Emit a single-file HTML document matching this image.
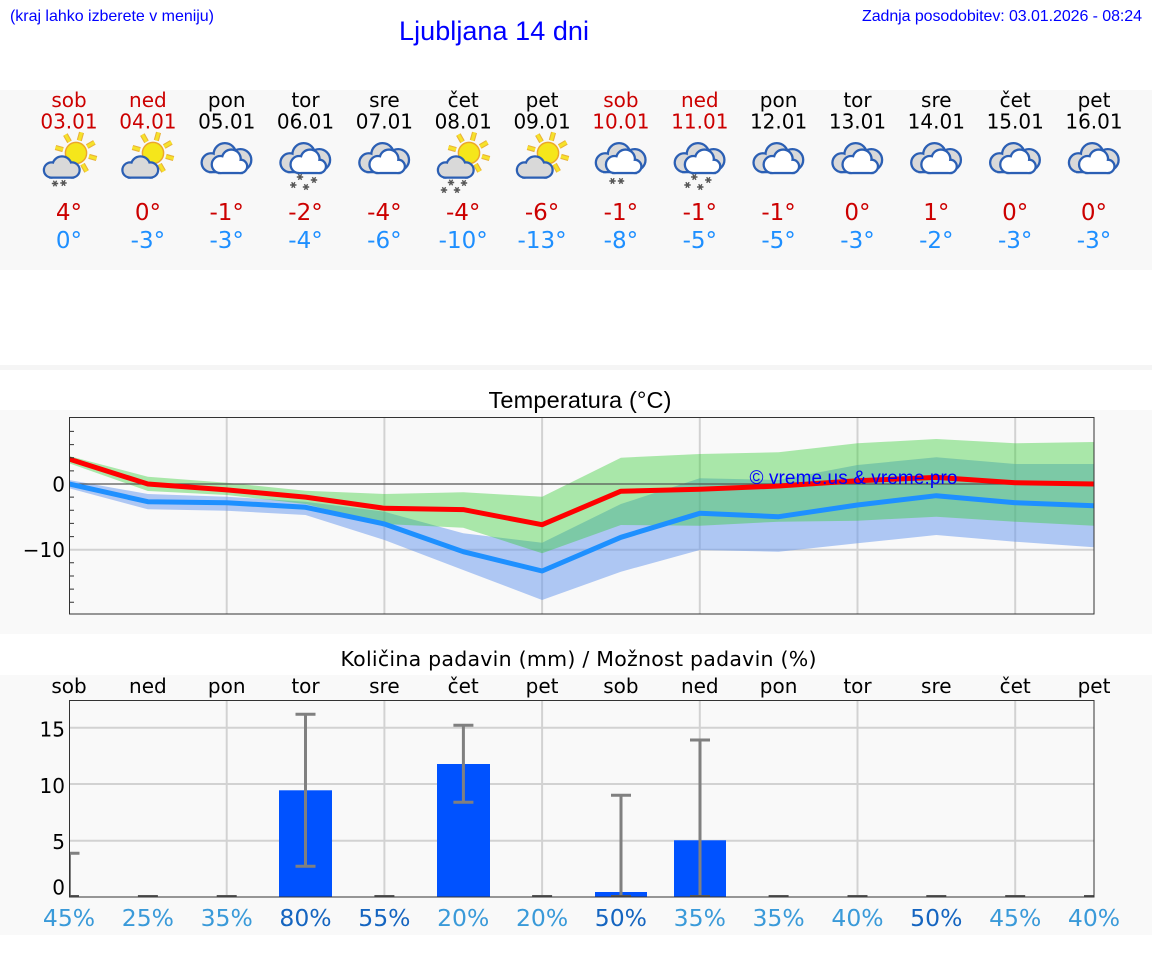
<!DOCTYPE html>
<html>
<head>
<meta charset="utf-8">
<style>
html,body{margin:0;padding:0;background:#fff;}
svg{display:block;}
</style>
</head>
<body>
<svg width="1152" height="975" viewBox="0 0 1152 975" xmlns="http://www.w3.org/2000/svg">
<defs>
  <g id="oc" transform="scale(0.92)">
    <g fill="#2b5fb4" stroke="#2b5fb4" stroke-width="5">
      <circle cx="-17" cy="4" r="9"/><circle cx="-2" cy="-5" r="11"/><circle cx="15" cy="1" r="10.5"/><rect x="-17" y="2" width="32" height="11"/>
    </g>
    <g fill="#d9d9d9">
      <circle cx="-17" cy="4" r="9"/><circle cx="-2" cy="-5" r="11"/><circle cx="15" cy="1" r="10.5"/><rect x="-17" y="2" width="32" height="11"/>
    </g>
    <g fill="#2b5fb4" stroke="#2b5fb4" stroke-width="5">
      <circle cx="-7" cy="6" r="8"/><circle cx="5" cy="0" r="9"/><circle cx="15" cy="8" r="6"/><rect x="-7" y="6" width="22" height="8"/>
    </g>
    <g fill="#ffffff">
      <circle cx="-7" cy="6" r="8"/><circle cx="5" cy="0" r="9"/><circle cx="15" cy="8" r="6"/><rect x="-7" y="6" width="22" height="8"/>
    </g>
  </g>
  <g id="sc">
    <g fill="#2b5fb4" stroke="#2b5fb4" stroke-width="4.5">
      <circle cx="-10.5" cy="3" r="6.5"/><circle cx="0" cy="-1" r="8.5"/><circle cx="10" cy="3" r="6.5"/><rect x="-10.5" y="3" width="20.5" height="6.5"/>
    </g>
    <g fill="#d9d9d9">
      <circle cx="-10.5" cy="3" r="6.5"/><circle cx="0" cy="-1" r="8.5"/><circle cx="10" cy="3" r="6.5"/><rect x="-10.5" y="3" width="20.5" height="6.5"/>
    </g>
  </g>
  <g id="sun" transform="scale(1.18)">
    <g stroke="#e9b23a" stroke-width="4.4" stroke-linecap="butt">
      <path d="M2.8,-10.6 L4.7,-17.4 M9.5,-5.5 L15.6,-9 M11,2.9 L17.4,4.7 M5.5,9.5 L9,15.6 M-2.8,10.6 L-4.7,17.4 M-9.5,5.5 L-15.6,9 M-11,-2.9 L-17.4,-4.7 M-5.5,-9.5 L-9,-15.6"/>
    </g>
    <g stroke="#f6e22a" stroke-width="2.6">
      <path d="M2.8,-10.6 L4.7,-17.4 M9.5,-5.5 L15.6,-9 M11,2.9 L17.4,4.7 M5.5,9.5 L9,15.6 M-2.8,10.6 L-4.7,17.4 M-9.5,5.5 L-15.6,9 M-11,-2.9 L-17.4,-4.7 M-5.5,-9.5 L-9,-15.6"/>
    </g>
    <circle cx="0" cy="0" r="9" fill="#f5e61b" stroke="#eba62c" stroke-width="1.2"/>
  </g>
  <g id="sf" stroke="#555" stroke-width="1.4" fill="none">
    <path d="M-3.2,0 H3.2 M-1.6,-2.8 L1.6,2.8 M-1.6,2.8 L1.6,-2.8"/>
  </g>
  <clipPath id="tclip"><rect x="69" y="417" width="1025" height="197"/></clipPath>
  <clipPath id="pclip"><rect x="69" y="700" width="1025" height="197.5"/></clipPath>
</defs>

<!-- backgrounds -->
<rect x="0" y="90" width="1152" height="180" fill="#f8f8f8"/>
<rect x="0" y="365" width="1152" height="5" fill="#f5f5f5"/>
<rect x="0" y="410" width="1152" height="224" fill="#f9f9f9"/>
<rect x="0" y="675" width="1152" height="260" fill="#f9f9f9"/>

<!-- header -->
<g font-family="Liberation Sans, Arial, sans-serif" fill="#0000ff">
  <text x="10" y="21" font-size="16" textLength="204">(kraj lahko izberete v meniju)</text>
  <text x="399" y="40" font-size="27" textLength="190">Ljubljana 14 dni</text>
  <text x="862" y="21" font-size="16" textLength="280">Zadnja posodobitev: 03.01.2026 - 08:24</text>
</g>

<!-- day columns -->
<g font-family="DejaVu Sans, sans-serif" font-size="20" text-anchor="middle">
  <g fill="#cc0000">
    <text x="69" y="107">sob</text><text x="69" y="128.5">03.01</text>
    <text x="147.9" y="107">ned</text><text x="147.9" y="128.5">04.01</text>
    <text x="620.9" y="107">sob</text><text x="620.9" y="128.5">10.01</text>
    <text x="699.8" y="107">ned</text><text x="699.8" y="128.5">11.01</text>
  </g>
  <g fill="#000">
    <text x="226.7" y="107">pon</text><text x="226.7" y="128.5">05.01</text>
    <text x="305.5" y="107">tor</text><text x="305.5" y="128.5">06.01</text>
    <text x="384.4" y="107">sre</text><text x="384.4" y="128.5">07.01</text>
    <text x="463.2" y="107">čet</text><text x="463.2" y="128.5">08.01</text>
    <text x="542.1" y="107">pet</text><text x="542.1" y="128.5">09.01</text>
    <text x="778.6" y="107">pon</text><text x="778.6" y="128.5">12.01</text>
    <text x="857.5" y="107">tor</text><text x="857.5" y="128.5">13.01</text>
    <text x="936.3" y="107">sre</text><text x="936.3" y="128.5">14.01</text>
    <text x="1015.2" y="107">čet</text><text x="1015.2" y="128.5">15.01</text>
    <text x="1094" y="107">pet</text><text x="1094" y="128.5">16.01</text>
  </g>
</g>
<g font-family="DejaVu Sans, sans-serif" font-size="23" text-anchor="middle">
  <g fill="#cc0000">
    <text x="69" y="220">4°</text><text x="147.9" y="220">0°</text><text x="226.7" y="220">-1°</text><text x="305.5" y="220">-2°</text>
    <text x="384.4" y="220">-4°</text><text x="463.2" y="220">-4°</text><text x="542.1" y="220">-6°</text><text x="620.9" y="220">-1°</text>
    <text x="699.8" y="220">-1°</text><text x="778.6" y="220">-1°</text><text x="857.5" y="220">0°</text><text x="936.3" y="220">1°</text>
    <text x="1015.2" y="220">0°</text><text x="1094" y="220">0°</text>
  </g>
  <g fill="#1e8fff">
    <text x="69" y="248">0°</text><text x="147.9" y="248">-3°</text><text x="226.7" y="248">-3°</text><text x="305.5" y="248">-4°</text>
    <text x="384.4" y="248">-6°</text><text x="463.2" y="248">-10°</text><text x="542.1" y="248">-13°</text><text x="620.9" y="248">-8°</text>
    <text x="699.8" y="248">-5°</text><text x="778.6" y="248">-5°</text><text x="857.5" y="248">-3°</text><text x="936.3" y="248">-2°</text>
    <text x="1015.2" y="248">-3°</text><text x="1094" y="248">-3°</text>
  </g>
</g>

<!-- icons -->
<use href="#sun" x="76" y="153"/><use href="#sc" x="62" y="167"/>
<use href="#sf" x="55" y="183.5"/><use href="#sf" x="63.5" y="183"/>
<use href="#sun" x="153" y="153"/><use href="#sc" x="140.5" y="167"/>
<use href="#oc" x="226.7" y="159"/>
<use href="#oc" x="305.5" y="159"/>
<use href="#sf" x="293.3" y="185"/><use href="#sf" x="300" y="177"/><use href="#sf" x="306" y="187"/><use href="#sf" x="314" y="180"/>
<use href="#oc" x="384.4" y="159"/>
<use href="#sun" x="469" y="153"/><use href="#sc" x="456" y="167"/>
<use href="#sf" x="444" y="190"/><use href="#sf" x="451" y="182.5"/><use href="#sf" x="457" y="190"/><use href="#sf" x="464" y="183"/>
<use href="#sun" x="548" y="153"/><use href="#sc" x="535" y="167"/>
<use href="#oc" x="620.9" y="159"/>
<use href="#sf" x="612.5" y="181"/><use href="#sf" x="621" y="181"/>
<use href="#oc" x="699.8" y="159"/>
<use href="#sf" x="687.5" y="185"/><use href="#sf" x="694.3" y="177"/><use href="#sf" x="700.3" y="187"/><use href="#sf" x="708.3" y="180"/>
<use href="#oc" x="778.6" y="159"/>
<use href="#oc" x="857.5" y="159"/>
<use href="#oc" x="936.3" y="159"/>
<use href="#oc" x="1015.2" y="159"/>
<use href="#oc" x="1094" y="159"/>

<!-- Temperature chart -->
<text x="580" y="408" font-family="Liberation Sans, Arial, sans-serif" font-size="23.5" text-anchor="middle" fill="#000" textLength="183">Temperatura (°C)</text>
<g clip-path="url(#tclip)">
  <g stroke="#d2d2d2" stroke-width="2">
    <path d="M226.7,417 V614 M384.4,417 V614 M542.1,417 V614 M699.8,417 V614 M857.5,417 V614 M1015.2,417 V614"/>
    <path d="M69,549.7 H1094"/>
  </g>
  <polygon fill="#6495ed" fill-opacity="0.5" points="69,480 147.85,494 226.7,496.7 305.5,501.7 384.4,511.7 463.2,533.3 542.1,542.7 620.9,504 699.8,478.3 778.6,480 857.5,465 936.3,457.3 1015.2,464 1094,464 1094,547.3 1015.2,541.7 936.3,535 857.5,543.3 778.6,551.7 699.8,550 620.9,571.7 542.1,600 463.2,570 384.4,540 305.5,515 226.7,510.7 147.85,509.3 69,488.3"/>
  <polygon fill="#32cd32" fill-opacity="0.4" points="69,456 147.85,476.7 226.7,482.7 305.5,490.7 384.4,494 463.2,492.3 542.1,496.7 620.9,457.7 699.8,454 778.6,452.3 857.5,443.3 936.3,439 1015.2,443.3 1094,442 1094,525.7 1015.2,521.7 936.3,516.7 857.5,520.7 778.6,521.7 699.8,525.7 620.9,525 542.1,553.3 463.2,527.7 384.4,524 305.5,504 226.7,495 147.85,491 69,463.3"/>
  <path d="M69,484 H1094" stroke="#555" stroke-width="1.2"/>
  <polyline fill="none" stroke="#1e90ff" stroke-width="5" stroke-linejoin="round" points="69,484 147.85,501.7 226.7,502.7 305.5,507.3 384.4,524 463.2,551.7 542.1,571 620.9,537.3 699.8,513.3 778.6,516.7 857.5,505 936.3,495.7 1015.2,502.7 1094,505.7"/>
  <polyline fill="none" stroke="#ff0000" stroke-width="5" stroke-linejoin="round" points="69,459 147.85,484 226.7,489.9 305.5,497.1 384.4,508.3 463.2,509.6 542.1,524.7 620.9,491.2 699.8,489.3 778.6,486 857.5,480.7 936.3,477.4 1015.2,482.7 1094,484"/>
</g>
<g stroke="#333" stroke-width="1">
  <path d="M69,431.4 h5 M69,444.6 h5 M69,457.7 h5 M69,470.9 h5 M69,497.1 h5 M69,510.3 h5 M69,523.4 h5 M69,536.6 h5 M69,562.8 h5 M69,576 h5 M69,589.1 h5 M69,602.3 h5"/>
  <rect x="69.5" y="417.5" width="1024.5" height="196.5" fill="none"/>
</g>
<g font-family="DejaVu Sans, sans-serif" font-size="20" text-anchor="end" fill="#000">
  <text x="65" y="491.3">0</text>
  <text x="65" y="557">−10</text>
</g>
<text x="853.5" y="484" font-family="Liberation Sans, Arial, sans-serif" font-size="19" text-anchor="middle" fill="#0000ff" textLength="208">© vreme.us &amp; vreme.pro</text>

<!-- Precipitation chart -->
<text x="578.5" y="666" font-family="DejaVu Sans, sans-serif" font-size="20.5" text-anchor="middle" fill="#000" textLength="476">Količina padavin (mm) / Možnost padavin (%)</text>
<g font-family="DejaVu Sans, sans-serif" font-size="20" text-anchor="middle" fill="#000">
  <text x="69" y="693">sob</text><text x="147.9" y="693">ned</text><text x="226.7" y="693">pon</text><text x="305.5" y="693">tor</text>
  <text x="384.4" y="693">sre</text><text x="463.2" y="693">čet</text><text x="542.1" y="693">pet</text><text x="620.9" y="693">sob</text>
  <text x="699.8" y="693">ned</text><text x="778.6" y="693">pon</text><text x="857.5" y="693">tor</text><text x="936.3" y="693">sre</text>
  <text x="1015.2" y="693">čet</text><text x="1094" y="693">pet</text>
</g>
<g clip-path="url(#pclip)">
  <g stroke="#d2d2d2" stroke-width="2">
    <path d="M226.7,700 V897 M384.4,700 V897 M542.1,700 V897 M699.8,700 V897 M857.5,700 V897 M1015.2,700 V897"/>
    <path d="M69,727.7 H1094 M69,784 H1094 M69,840.7 H1094"/>
  </g>
  <g fill="#0052ff">
    <rect x="279" y="790.3" width="53" height="107"/>
    <rect x="437" y="764" width="53" height="133.3"/>
    <rect x="595" y="892" width="52" height="5.3"/>
    <rect x="674" y="840.3" width="52" height="57"/>
  </g>
  <g stroke="#808080" stroke-width="3" fill="none">
    <path d="M69.5,897 V853.3 M59.5,853.3 H79.5"/>
    <path d="M305.5,866.3 V714.3 M295.5,714.3 H315.5 M295.5,866.3 H315.5"/>
    <path d="M463.4,802.3 V725.3 M453.4,725.3 H473.4 M453.4,802.3 H473.4"/>
    <path d="M621,897 V795.3 M611,795.3 H631"/>
    <path d="M700,897 V740 M690,740 H710"/>
  </g>
  <g stroke="#555" stroke-width="3">
    <path d="M59,896.5 H79 M137.9,896.5 H157.9 M216.7,896.5 H236.7 M374.4,896.5 H394.4 M532.1,896.5 H552.1 M611,896.5 H631 M690,896.5 H710 M768.6,896.5 H788.6 M847.5,896.5 H867.5 M926.3,896.5 H946.3 M1005.2,896.5 H1025.2 M1084,896.5 H1104"/>
  </g>
</g>
<rect x="69.5" y="700.5" width="1024.5" height="196.5" fill="none" stroke="#333" stroke-width="1"/>
<g font-family="DejaVu Sans, sans-serif" font-size="20" text-anchor="end" fill="#000">
  <text x="65" y="736.3">15</text>
  <text x="65" y="793">10</text>
  <text x="65" y="849">5</text>
  <text x="65" y="894.3">0</text>
</g>
<g font-family="DejaVu Sans, sans-serif" font-size="23.5" text-anchor="middle">
  <text x="69" y="926" fill="#3a9ad9">45%</text>
  <text x="147.9" y="926" fill="#3a9ad9">25%</text>
  <text x="226.7" y="926" fill="#3a9ad9">35%</text>
  <text x="305.5" y="926" fill="#1565c0">80%</text>
  <text x="384.4" y="926" fill="#1565c0">55%</text>
  <text x="463.2" y="926" fill="#3a9ad9">20%</text>
  <text x="542.1" y="926" fill="#3a9ad9">20%</text>
  <text x="620.9" y="926" fill="#1565c0">50%</text>
  <text x="699.8" y="926" fill="#3a9ad9">35%</text>
  <text x="778.6" y="926" fill="#3a9ad9">35%</text>
  <text x="857.5" y="926" fill="#3a9ad9">40%</text>
  <text x="936.3" y="926" fill="#1565c0">50%</text>
  <text x="1015.2" y="926" fill="#3a9ad9">45%</text>
  <text x="1094" y="926" fill="#3a9ad9">40%</text>
</g>
</svg>
</body>
</html>
